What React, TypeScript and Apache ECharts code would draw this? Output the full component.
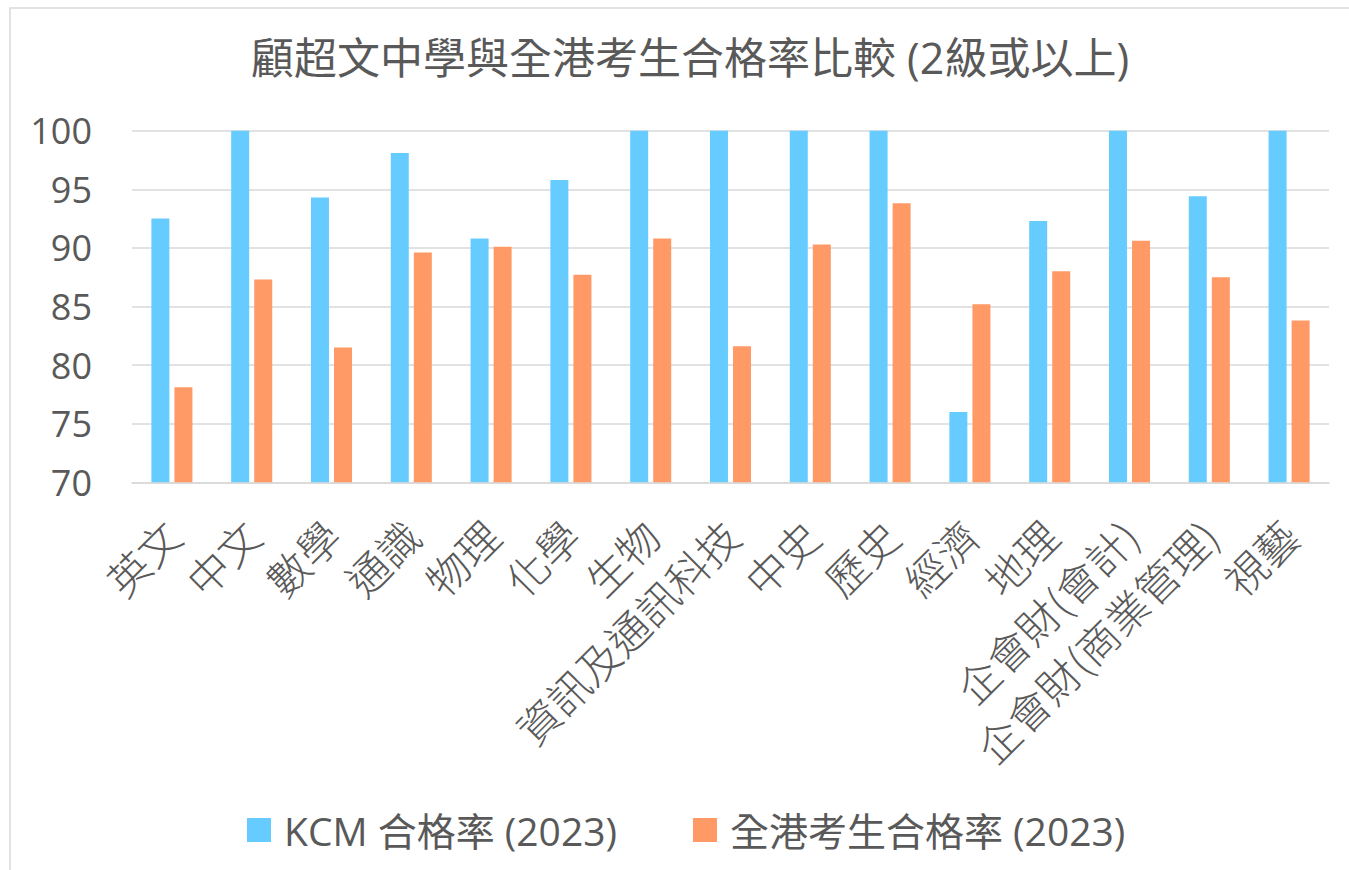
import React, { useEffect, useRef } from "react";
import * as echarts from "echarts";

const categories = [
  "英文", "中文", "數學", "通識", "物理", "化學", "生物", "資訊及通訊科技",
  "中史", "歷史", "經濟", "地理", "企會財(會計)", "企會財(商業管理)", "視藝",
];
const kcmRates = [92.5, 100, 94.3, 98.1, 90.8, 95.8, 100, 100, 100, 100, 76.0, 92.3, 100, 94.4, 100];
const hkRates = [78.1, 87.3, 81.5, 89.6, 90.1, 87.7, 90.8, 81.6, 90.3, 93.8, 85.2, 88.0, 90.6, 87.5, 83.8];
const seriesNames = ["KCM 合格率 (2023)", "全港考生合格率 (2023)"];
const titleText = "顧超文中學與全港考生合格率比較 (2級或以上)";

const FONT = '"Open Sans", "Noto Sans CJK TC", sans-serif';
const CJK = '"Noto Sans CJK TC", "Open Sans", sans-serif';
const GREY = "#595959";

export default function App() {
  const ref = useRef<HTMLDivElement>(null);
  useEffect(() => {
    if (!ref.current) return;
    const chart = echarts.init(ref.current, undefined, { renderer: "svg" });
    chart.setOption({
      animation: false,
      backgroundColor: "#ffffff",
      title: {
        text: titleText,
        left: 685,
        textAlign: "center",
        top: 31,
        textStyle: { fontFamily: FONT, fontSize: 43, fontWeight: "normal", color: GREY },
      },
      legend: {
        left: 242,
        top: 805,
        icon: "rect",
        itemWidth: 24,
        itemHeight: 24,
        itemGap: 76,
        textStyle: { fontFamily: FONT, fontSize: 39, color: GREY, lineHeight: 40, padding: [0, 0, 0, 8] },
        data: seriesNames,
      },
      grid: { left: 132, right: 20, top: 130.7, bottom: 387.7, containLabel: false },
      xAxis: {
        type: "category",
        data: categories,
        axisLine: { show: true, lineStyle: { color: "#d9d9d9", width: 1.5 } },
        axisTick: { show: false },
        axisLabel: {
          interval: 0,
          rotate: 45,
          margin: 45,
          fontFamily: CJK,
          fontSize: 42,
          fontWeight: 300,
          color: GREY,
        },
      },
      yAxis: {
        type: "value",
        min: 70,
        max: 100,
        interval: 5,
        axisLine: { show: false },
        axisTick: { show: false },
        splitLine: { lineStyle: { color: "#d9d9d9", width: 1.5 } },
        axisLabel: { fontFamily: FONT, fontSize: 36, color: GREY, margin: 40 },
      },
      series: [
        {
          name: seriesNames[0],
          type: "bar",
          data: kcmRates,
          barWidth: 18,
          barGap: "28%",
          itemStyle: { color: "#66CCFF" },
        },
        {
          name: seriesNames[1],
          type: "bar",
          data: hkRates,
          barWidth: 18,
          barGap: "28%",
          itemStyle: { color: "#FF9966" },
        },
      ],
      graphic: [
        {
          type: "rect",
          shape: { x: 10, y: 8, width: 1400, height: 900 },
          style: { fill: "none", stroke: "#d9d9d9", lineWidth: 1.5 },
          silent: true,
        },
      ],
    });
    return () => chart.dispose();
  }, []);
  return (
    <div
      ref={ref}
      style={{ position: "fixed", left: 0, top: 0, width: 1349, height: 870 }}
    />
  );
}
